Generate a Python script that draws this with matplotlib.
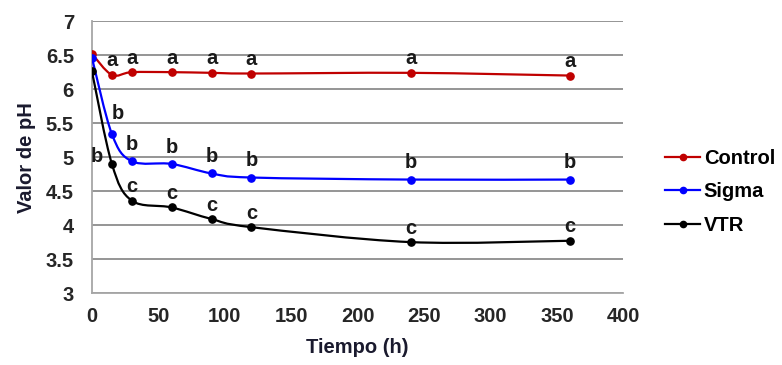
import matplotlib
matplotlib.use("Agg")
import matplotlib.pyplot as plt
from matplotlib.path import Path
from matplotlib.patches import PathPatch
from matplotlib.lines import Line2D
import numpy as np

plt.rcParams["font.family"] = ["Liberation Sans", "DejaVu Sans"]
plt.rcParams["font.weight"] = "bold"

# Data
tiempo = [0, 15, 30, 60, 90, 120, 240, 360]
ph_control = [6.52, 6.21, 6.25, 6.25, 6.24, 6.23, 6.24, 6.20]
ph_sigma = [6.46, 5.34, 4.94, 4.90, 4.76, 4.70, 4.67, 4.67]
ph_vtr = [6.26, 4.90, 4.36, 4.26, 4.09, 3.97, 3.75, 3.77]

letras_control = ["", "a", "a", "a", "a", "a", "a", "a"]
letras_sigma = ["", "b", "b", "b", "b", "b", "b", "b"]
letras_vtr = ["", "b", "c", "c", "c", "c", "c", "c"]

series = [
    ("Control", ph_control, letras_control, "#c00000"),
    ("Sigma", ph_sigma, letras_sigma, "#0000ff"),
    ("VTR", ph_vtr, letras_vtr, "#000000"),
]

TEXT = "#262626"
FS = 14.5


def smooth_path(x, y):
    """Excel-style smoothed line: cubic Bezier through every point."""
    pts = np.column_stack([x, y]).astype(float)
    n = len(pts)
    verts = [pts[0]]
    codes = [Path.MOVETO]
    for i in range(n - 1):
        p0 = pts[i - 1] if i > 0 else pts[i]
        p1, p2 = pts[i], pts[i + 1]
        p3 = pts[i + 2] if i + 2 < n else pts[i + 1]
        c1 = p1 + (p2 - p0) / 6.0
        c2 = p2 - (p3 - p1) / 6.0
        verts += [c1, c2, p2]
        codes += [Path.CURVE4] * 3
    return Path(verts, codes)


fig = plt.figure(figsize=(7.82, 3.65), dpi=100)
ax = fig.add_axes([0.1176, 0.197, 0.797 - 0.1176, 0.745])

handles = []
for name, vals, letras, color in series:
    ax.add_patch(PathPatch(smooth_path(tiempo, vals), fill=False,
                           edgecolor=color, lw=1.6, zorder=3))
    ax.plot(tiempo, vals, ls="none", marker="o", ms=5.2, color=color, zorder=4)
    handles.append(Line2D([], [], color=color, lw=1.6, marker="o", ms=4.5))

    for i, (t, v, lab) in enumerate(zip(tiempo, vals, letras)):
        if not lab:
            continue
        dx, dy = 0, 10
        if name == "Sigma":
            dy = 12
            if t == 15:
                dx, dy = 4, 15
        if name == "VTR" and t == 15:
            dx, dy = -11, 5
        ax.annotate(lab, (t, v), xytext=(dx, dy), textcoords="offset points",
                    ha="center", va="center", fontsize=FS, fontweight="bold",
                    color="#1a1a1a", zorder=5)

ax.set_xlim(0, 400)
ax.set_ylim(3, 7)
ax.set_xticks(np.arange(0, 401, 50))
ax.set_yticks(np.arange(3, 7.01, 0.5))
ax.set_yticklabels(["3", "3.5", "4", "4.5", "5", "5.5", "6", "6.5", "7"])

ax.grid(axis="y", color="#8c8c8c", lw=1.3)
ax.set_axisbelow(True)
for side in ("top", "right"):
    ax.spines[side].set_visible(False)
for side in ("left", "bottom"):
    ax.spines[side].set_color("#a6a6a6")
    ax.spines[side].set_linewidth(1.3)

ax.tick_params(length=0, labelsize=FS, labelcolor=TEXT)
ax.tick_params(axis="y", pad=13)
ax.tick_params(axis="x", pad=10)
for lab in ax.get_xticklabels() + ax.get_yticklabels():
    lab.set_fontweight("bold")

ax.set_xlabel("Tiempo (h)", fontsize=FS, fontweight="bold", color="#1a1a2e", labelpad=9)
ax.set_ylabel("Valor de pH", fontsize=FS, fontweight="bold", color="#1a1a2e", labelpad=7)

fig.legend(handles, [s[0] for s in series], loc="upper left",
           bbox_to_anchor=(0.838, 0.62), frameon=False, fontsize=FS,
           handlelength=1.7, handletextpad=0.2, labelspacing=0.72,
           borderpad=0)

fig.savefig("out.png", dpi=100)
